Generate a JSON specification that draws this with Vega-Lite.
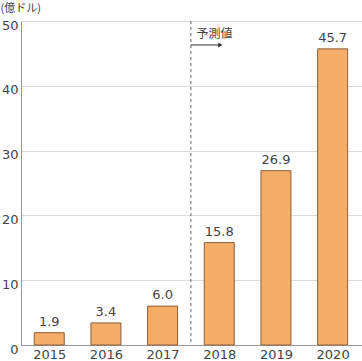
{
  "$schema": "https://vega.github.io/schema/vega-lite/v6.json",
  "width": 341,
  "height": 324,
  "autosize": {"type": "none"},
  "padding": {"left": 21, "top": 21, "right": 0, "bottom": 16},
  "background": "white",
  "config": {
    "font": "Noto Sans CJK JP",
    "view": {"stroke": null},
    "axis": {"labelFont": "DejaVu Sans", "titleFont": "Noto Sans CJK JP"}
  },
  "datasets": {
    "bars": [
      {"year": 2015, "value": 1.9, "label": "1.9"},
      {"year": 2016, "value": 3.4, "label": "3.4"},
      {"year": 2017, "value": 6.0, "label": "6.0"},
      {"year": 2018, "value": 15.8, "label": "15.8"},
      {"year": 2019, "value": 26.9, "label": "26.9"},
      {"year": 2020, "value": 45.7, "label": "45.7"}
    ],
    "divider": [{"x": 2017.5}],
    "arrow": [{"x": 2017.5, "x2": 2018.02, "y": 46.3, "text": "予測値", "tx": 2017.6, "ty": 48.0}]
  },
  "layer": [
    {
      "data": {"name": "bars"},
      "mark": {"type": "bar", "size": 30, "fill": "#F5AE67", "stroke": "#8C5E3C", "strokeWidth": 1},
      "encoding": {
        "x": {
          "field": "year", "type": "quantitative",
          "scale": {"domain": [2014.59, 2020.43], "nice": false, "zero": false},
          "axis": {
            "values": [2015, 2016, 2017, 2018, 2019, 2020],
            "format": "d", "title": null, "grid": false, "ticks": false,
            "domainColor": "#999999", "domainWidth": 1,
            "labelFontSize": 13, "labelColor": "#444444", "labelPadding": 3
          }
        },
        "y": {
          "field": "value", "type": "quantitative",
          "scale": {"domain": [0, 50], "nice": false},
          "axis": {
            "values": [0, 10, 20, 30, 40, 50],
            "title": "(億ドル)", "titleAngle": 0, "titleAlign": "left", "titleBaseline": "top",
            "titleX": -21, "titleY": -19, "titleFontSize": 11, "titleFontWeight": "normal", "titleColor": "#444444",
            "grid": true, "gridColor": "#D9D9D9", "gridWidth": 1.2,
            "ticks": false, "domainColor": "#999999", "domainWidth": 1,
            "labelFontSize": 13, "labelColor": "#444444", "labelPadding": 3, "labelBaseline": "middle", "labelOffset": 4
          }
        }
      }
    },
    {
      "data": {"name": "bars"},
      "mark": {"type": "text", "dy": -4, "font": "DejaVu Sans", "fontSize": 13, "color": "#444444", "baseline": "bottom"},
      "encoding": {
        "x": {"field": "year", "type": "quantitative"},
        "y": {"field": "value", "type": "quantitative"},
        "text": {"field": "label"}
      }
    },
    {
      "data": {"name": "divider"},
      "mark": {"type": "rule", "strokeDash": [3, 3], "color": "#666666", "strokeWidth": 1},
      "encoding": {"x": {"field": "x", "type": "quantitative"}}
    },
    {
      "data": {"name": "arrow"},
      "mark": {"type": "rule", "color": "#333333", "strokeWidth": 1},
      "encoding": {
        "x": {"field": "x", "type": "quantitative"},
        "x2": {"field": "x2"},
        "y": {"field": "y", "type": "quantitative"}
      }
    },
    {
      "data": {"name": "arrow"},
      "mark": {"type": "point", "shape": "triangle-right", "filled": true, "color": "#333333", "size": 25, "opacity": 1},
      "encoding": {
        "x": {"field": "x2", "type": "quantitative"},
        "y": {"field": "y", "type": "quantitative"}
      }
    },
    {
      "data": {"name": "arrow"},
      "mark": {"type": "text", "align": "left", "baseline": "middle", "fontSize": 12, "color": "#444444"},
      "encoding": {
        "x": {"field": "tx", "type": "quantitative"},
        "y": {"field": "ty", "type": "quantitative"},
        "text": {"field": "text"}
      }
    }
  ]
}
